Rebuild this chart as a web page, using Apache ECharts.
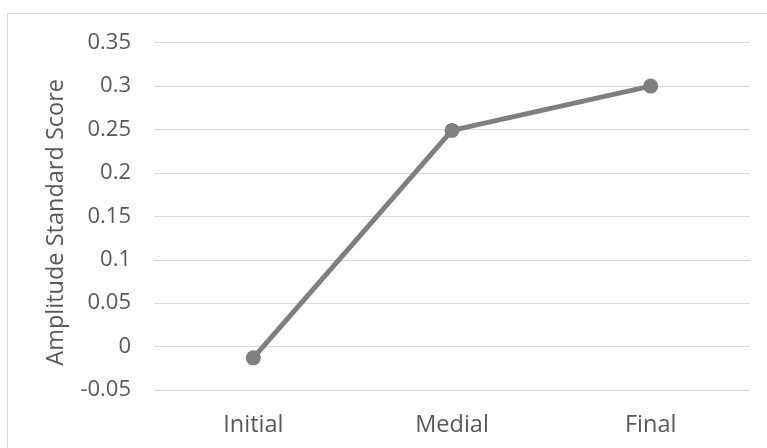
<!DOCTYPE html>
<html>
<head>
<meta charset="utf-8">
<style>
  html, body { margin: 0; padding: 0; background: #ffffff; }
  #chart { width: 767px; height: 448px; }
</style>
<script src="https://cdn.jsdelivr.net/npm/echarts@6/dist/echarts.min.js"></script>
</head>
<body>
<div id="chart"></div>
<script>
// Phases and their amplitude standard scores
const categories = ['Initial', 'Medial', 'Final'];
const amplitudeScores = [-0.013, 0.249, 0.3];

// Value axis range and step
const yMin = -0.05;
const yMax = 0.35;
const yStep = 0.05;
const yAxisTitle = 'Amplitude Standard Score';

const textColor = '#595959';
const fontFamily = '"Open Sans", "Liberation Sans", sans-serif';

const chart = echarts.init(document.getElementById('chart'), null, { renderer: 'canvas' });

chart.setOption({
  backgroundColor: '#ffffff',
  animation: false,
  graphic: [{
    type: 'rect',
    shape: { x: 7.5, y: 13.5, width: 800, height: 500 },
    style: { fill: 'none', stroke: '#d9d9d9', lineWidth: 1 },
    silent: true,
    z: -10
  }],
  grid: { left: 154, right: 17, top: 42.7, bottom: 58 },
  xAxis: {
    type: 'category',
    data: categories,
    boundaryGap: true,
    axisLine: { show: false },
    axisTick: { show: false },
    axisLabel: { color: textColor, fontFamily: fontFamily, fontSize: 23.5, margin: 23 }
  },
  yAxis: {
    type: 'value',
    min: yMin,
    max: yMax,
    interval: yStep,
    name: yAxisTitle,
    nameLocation: 'middle',
    nameRotate: 90,
    nameGap: 86,
    nameTextStyle: {
      color: textColor,
      fontFamily: fontFamily,
      fontSize: 23.5,
      padding: [0, 12, 0, 0]
    },
    axisLine: { show: false },
    axisTick: { show: false },
    axisLabel: {
      color: textColor,
      fontFamily: fontFamily,
      fontSize: 22,
      margin: 23,
      formatter: v => String(+v.toFixed(2))
    },
    splitLine: { lineStyle: { color: '#d9d9d9', width: 1 } }
  },
  series: [{
    type: 'line',
    data: amplitudeScores,
    symbol: 'circle',
    symbolSize: 15,
    lineStyle: { color: '#7f7f7f', width: 5 },
    itemStyle: { color: '#7f7f7f' }
  }]
});
</script>
</body>
</html>
